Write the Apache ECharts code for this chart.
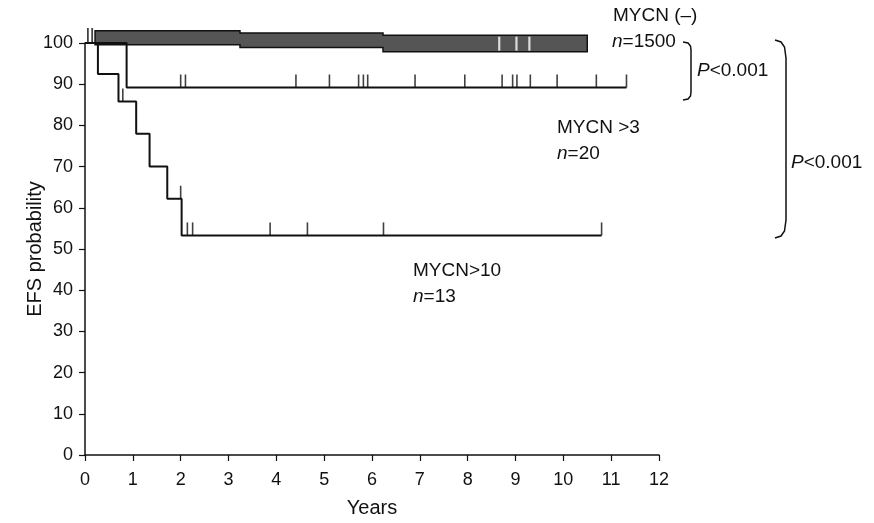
<!DOCTYPE html>
<html>
<head>
<meta charset="utf-8">
<script src="https://cdn.jsdelivr.net/npm/echarts@6/dist/echarts.min.js"></script>
<style>
	html, body { margin: 0; padding: 0; background: #fff; }
	#chart { width: 874px; height: 523px; }
</style>
</head>
<body>
<div id="chart"></div>
<script>
// EFS-Kurven nach MYCN-Status
const xTicks = [0, 1, 2, 3, 4, 5, 6, 7, 8, 9, 10, 11, 12]
const yTicks = [0, 10, 20, 30, 40, 50, 60, 70, 80, 90, 100]

// MYCN>10, n=13
const mycn10Years = [0, 0.27, 0.70, 1.07, 1.35, 1.72, 2.02, 10.8]
const mycn10Efs = [100, 92.5, 85.8, 78.0, 70.0, 62.2, 53.3, 53.3]
const mycn10Censor = [0.79, 2.0, 2.14, 2.25, 3.87, 4.65, 6.24, 10.8]

// MYCN >3, n=20
const mycn3Years = [0, 0.87, 11.32]
const mycn3Efs = [100, 89.2, 89.2]
const mycn3Censor = [2.0, 2.1, 4.41, 5.11, 5.72, 5.82, 5.91, 6.9, 7.94, 8.72, 8.94, 9.03, 9.31, 9.87, 10.69, 11.32]

// MYCN (-), n=1500: dichte Zensierungen bilden ein Band
const negYears = [0.21, 3.24, 6.23, 10.5]
const negLow = [99.6, 98.9, 97.9, 97.9]
const negTop = [103.0, 102.4, 101.9, 101.9]
const negCensor = [0.06, 0.15]
const negGaps = [8.66, 9.02, 9.29]

const FONT = "'Liberation Sans', Arial, sans-serif"

function pairs(xs, ys) {
	return xs.map(function (x, i) {
		return [x, ys[i]]
	})
}

function stepValue(xs, ys, t) {
	let v = ys[0]
	for (let i = 0; i < xs.length; i++) {
		if (xs[i] <= t) {
			v = ys[i]
		}
	}
	return v
}

function censorPoints(xs, ys, list) {
	return list.map(function (t) {
		return [t, stepValue(xs, ys, t)]
	})
}

function label(x, y, text) {
	return {
		type: "text",
		x: x,
		y: y,
		style: {
			text: text,
			fontSize: 19,
			fontFamily: FONT,
			fill: "#111",
			verticalAlign: "middle",
			rich: {i: {fontStyle: "italic", fontSize: 19, fontFamily: FONT, fill: "#111"}}
		}
	}
}

function bracket(points) {
	return {
		type: "polyline",
		shape: {points: points},
		style: {fill: null, stroke: "#111", lineWidth: 1.5}
	}
}

// Band der MYCN(-)-Kurve als Polygon über die Achsen
function renderBand(params, api) {
	let pts = []
	let n = negYears.length
	for (let i = 0; i < n - 1; i++) {
		pts.push(api.coord([negYears[i], negTop[i]]))
		pts.push(api.coord([negYears[i + 1], negTop[i]]))
	}
	for (let i = n - 2; i >= 0; i--) {
		pts.push(api.coord([negYears[i + 1], negLow[i]]))
		pts.push(api.coord([negYears[i], negLow[i]]))
	}
	return {
		type: "polygon",
		shape: {points: pts},
		style: {fill: "#555", stroke: "#111", lineWidth: 1.5}
	}
}

let chart = echarts.init(document.getElementById("chart"))

chart.setOption({
	animation: false,
	grid: {
		left: 85,
		right: 215,
		top: 43,
		bottom: 60
	},
	xAxis: {
		type: "value",
		min: 0,
		max: 12,
		interval: 1,
		name: "Years",
		nameLocation: "middle",
		nameGap: 43,
		nameMoveOverlap: false,
		nameTextStyle: {fontSize: 20, fontFamily: FONT, color: "#111"},
		splitLine: {show: false},
		axisLine: {lineStyle: {color: "#111", width: 1.5}},
		axisTick: {length: 6, lineStyle: {color: "#111", width: 1.2}},
		axisLabel: {
			margin: 16,
			fontSize: 18,
			fontFamily: FONT,
			color: "#111",
			formatter: function (v) {
				return xTicks.indexOf(v) >= 0 ? String(v) : ""
			}
		}
	},
	yAxis: {
		type: "value",
		min: 0,
		max: 100,
		interval: 10,
		name: "EFS probability",
		nameLocation: "middle",
		nameGap: 40,
		nameMoveOverlap: false,
		nameTextStyle: {fontSize: 20, fontFamily: FONT, color: "#111"},
		splitLine: {show: false},
		axisLine: {show: true, lineStyle: {color: "#111", width: 1.5}},
		axisTick: {show: true, length: 6, lineStyle: {color: "#111", width: 1.2}},
		axisLabel: {
			margin: 12,
			fontSize: 18,
			fontFamily: FONT,
			color: "#111",
			formatter: function (v) {
				return yTicks.indexOf(v) >= 0 ? String(v) : ""
			}
		}
	},
	series: [
		{
			name: "MYCN (-)",
			type: "line",
			step: "end",
			clip: false,
			symbol: "none",
			data: [[0, 100], [negYears[0], 100]],
			lineStyle: {color: "#111", width: 2}
		},
		{
			name: "MYCN >3",
			type: "line",
			step: "end",
			clip: false,
			symbol: "none",
			data: pairs(mycn3Years, mycn3Efs),
			lineStyle: {color: "#111", width: 2}
		},
		{
			name: "MYCN>10",
			type: "line",
			step: "end",
			clip: false,
			symbol: "none",
			data: pairs(mycn10Years, mycn10Efs),
			lineStyle: {color: "#111", width: 2}
		},
		{
			name: "band",
			type: "custom",
			clip: false,
			z: 3,
			renderItem: renderBand,
			data: [[negYears[0], negLow[0]]]
		},
		{
			name: "censor",
			type: "scatter",
			clip: false,
			symbol: "rect",
			symbolSize: [1.6, 13],
			symbolOffset: [0, -6.5],
			itemStyle: {color: "#111"},
			data: censorPoints(mycn3Years, mycn3Efs, mycn3Censor)
				.concat(censorPoints(mycn10Years, mycn10Efs, mycn10Censor))
		},
		{
			name: "negCensor",
			type: "scatter",
			clip: false,
			z: 4,
			symbol: "rect",
			symbolSize: [1.8, 15],
			symbolOffset: [0, -7.5],
			itemStyle: {color: "#111"},
			data: negCensor.map(function (t) {
				return [t, 100]
			})
		},
		{
			name: "negGaps",
			type: "scatter",
			clip: false,
			z: 4,
			symbol: "rect",
			symbolSize: [2.2, 14],
			symbolOffset: [0, -8],
			itemStyle: {color: "#fff"},
			data: censorPoints(negYears, negLow, negGaps)
		}
	],
	graphic: [
		label(613, 16, "MYCN (\u2013)"),
		label(612, 42, "{i|n}=1500"),
		label(557, 128, "MYCN >3"),
		label(557, 154, "{i|n}=20"),
		label(413, 271, "MYCN>10"),
		label(413, 297, "{i|n}=13"),
		label(697, 71, "{i|P}<0.001"),
		label(791, 163, "{i|P}<0.001"),
		bracket([[683, 42], [688, 43], [690.5, 46], [691, 50], [691, 92], [690.5, 96], [688, 99], [683, 100]]),
		bracket([[775, 40], [781, 42], [784.5, 47], [786, 58], [786, 220], [784.5, 231], [781, 236], [775, 238]])
	]
})
</script>
</body>
</html>
